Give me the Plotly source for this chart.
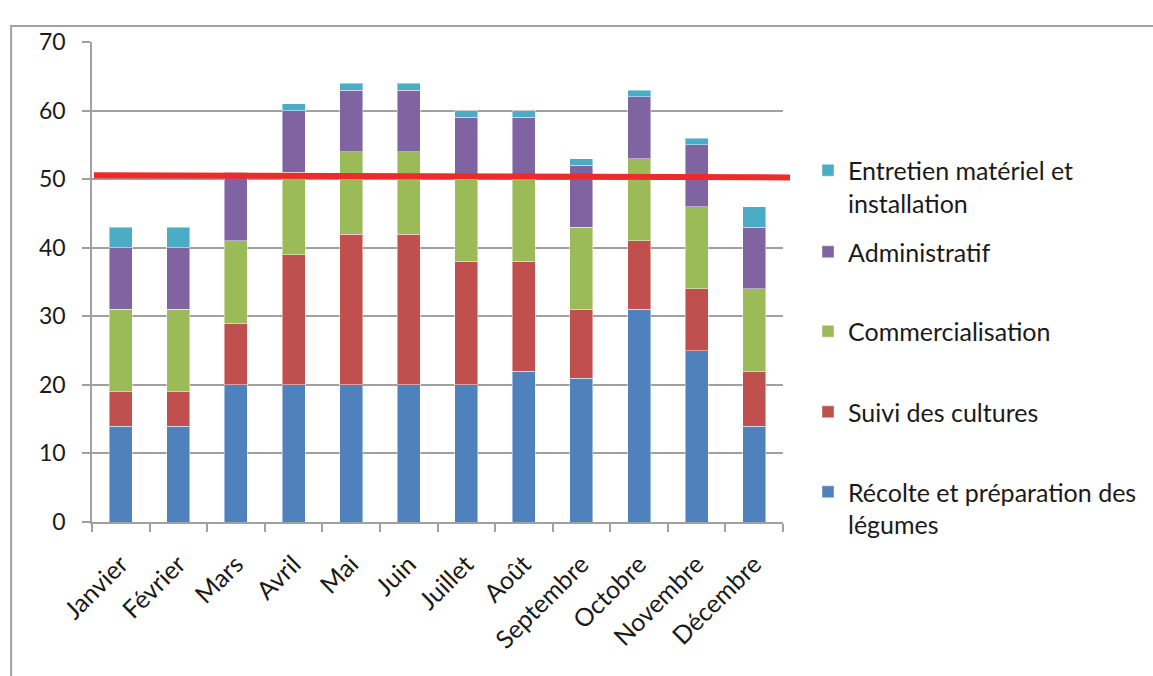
import plotly.graph_objects as go

mois = ["Janvier", "Février", "Mars", "Avril", "Mai", "Juin", "Juillet",
        "Août", "Septembre", "Octobre", "Novembre", "Décembre"]

recolte = [14, 14, 20, 20, 20, 20, 20, 22, 21, 31, 25, 14]
suivi = [5, 5, 9, 19, 22, 22, 18, 16, 10, 10, 9, 8]
commercialisation = [12, 12, 12, 12, 12, 12, 12, 12, 12, 12, 12, 12]
administratif = [9, 9, 10, 9, 9, 9, 9, 9, 9, 9, 9, 9]
entretien = [3, 3, 0, 1, 1, 1, 1, 1, 1, 1, 1, 3]

series_names = ["Récolte et préparation des<br>légumes", "Suivi des cultures",
                "Commercialisation", "Administratif",
                "Entretien matériel et<br>installation"]
series_values = [recolte, suivi, commercialisation, administratif, entretien]
series_colors = ["#4F81BD", "#C0504D", "#9BBB59", "#8064A2", "#4BACC6"]

# red reference line (start, end) values on the y axis
objectif = [50.55, 50.25]

FONT = "Lato"
TXT = "#1a1a1a"

fig = go.Figure()
legend_ids = ["legend", "legend2", "legend3", "legend4", "legend5"]
for name, vals, col, lg in zip(series_names, series_values, series_colors, legend_ids):
    fig.add_trace(go.Bar(
        x=mois, y=vals, name=name, legend=lg,
        marker=dict(color=col, line=dict(color="rgba(255,255,255,0.45)", width=1)),
    ))

# plot area geometry (pixels) to place legend items
W, H = 1153, 676
L, R, T, B = 92, 369, 42, 154
pw, ph = W - L - R, H - T - B

def px(xp):
    return (xp - L) / pw

def py(yp):
    return (H - B - yp) / ph

first_line_centers = [492, 412, 331.5, 252, 170.5]
legends = {}
for lg, cy in zip(legend_ids, first_line_centers):
    legends[lg] = dict(
        x=px(808), y=py(cy - 23), xanchor="left", yanchor="top",
        bgcolor="rgba(0,0,0,0)", borderwidth=0, valign="top",
        font=dict(family=FONT, size=25, color=TXT),
        tracegroupgap=0,
    )

fig.update_layout(
    width=W, height=H,
    margin=dict(l=L, r=R, t=T, b=B, pad=0),
    barmode="stack", bargap=0.6,
    plot_bgcolor="white", paper_bgcolor="white",
    font=dict(family=FONT, size=22, color=TXT),
    showlegend=True,
    **legends,
)

fig.update_yaxes(
    range=[0, 70], dtick=10, tick0=0,
    showgrid=True, gridcolor="#A0A0A0", gridwidth=1.5,
    showline=True, linecolor="#A0A0A0", linewidth=1.5,
    ticks="outside", ticklen=8, tickcolor="#A0A0A0", tickwidth=1.5,
    ticklabelstandoff=12,
    tickfont=dict(family=FONT, size=23, color=TXT),
    zeroline=False,
)
fig.update_xaxes(
    showline=True, linecolor="#A0A0A0", linewidth=1.5,
    ticks="outside", ticklen=8, tickcolor="#A0A0A0", tickwidth=1.5,
    tickson="boundaries", tickangle=-45,
    ticklabelstandoff=16,
    tickfont=dict(family=FONT, size=25, color=TXT),
    showgrid=False,
)

# red horizontal reference line
fig.add_shape(type="line", xref="paper", yref="y",
              x0=px(94), x1=px(791), y0=objectif[0], y1=objectif[1],
              line=dict(color="#EC2B2B", width=6), layer="above")

# outer chart frame (partially cut off)
fig.add_shape(type="rect", xref="paper", yref="paper",
              x0=px(11), x1=px(1200), y0=py(720), y1=py(26),
              line=dict(color="#A0A0A0", width=2), layer="below")

fig.write_html("out.html")
